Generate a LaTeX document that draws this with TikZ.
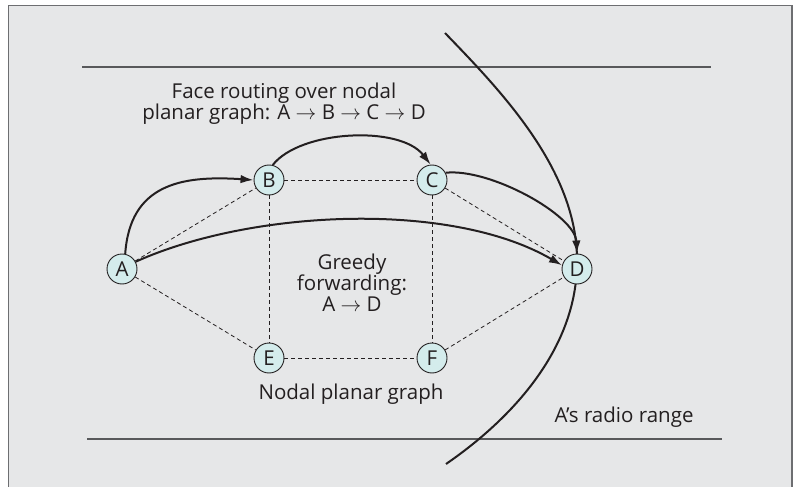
\documentclass[tikz,border=0pt]{standalone}
\usepackage{fontspec}
\setmainfont{Open Sans}[Ligatures=NoCommon]
\usetikzlibrary{arrows.meta}
\definecolor{bg}{HTML}{E6E7E8}
\definecolor{framec}{HTML}{6D6E71}
\definecolor{rulec}{HTML}{58595B}
\definecolor{nodefill}{HTML}{D4ECEC}
\definecolor{ink}{HTML}{231F20}
\begin{document}
\begin{tikzpicture}[x=1pt,y=-1pt,
  font=\fontsize{20.5}{21}\selectfont, text=ink,
  vertex/.style={circle, draw=ink, fill=nodefill, line width=0.9pt, minimum size=30pt, inner sep=0pt, font=\fontsize{20.5}{20}\selectfont},
  link/.style={dash pattern=on 4pt off 3pt, line width=0.8pt, draw=ink},
  route/.style={line width=2pt, draw=ink, -{Latex[length=13pt,width=8.5pt]}},
  rangeline/.style={line width=2pt, draw=ink},
  hrule/.style={line width=1.3pt, draw=rulec},
  label/.style={align=center, inner sep=0pt, anchor=base}]
\useasboundingbox (0,0) rectangle (796,487);
\fill[white] (0,0) rectangle (796,487);
\draw[draw=framec, line width=1.8pt, fill=bg] (8.5,5.5) rectangle (792,500);
% horizontal rules
\coordinate (t1) at (82,67); \coordinate (t2) at (711,67);
\coordinate (b1) at (87,439); \coordinate (b2) at (722,439);
\draw[hrule] (t1) -- (t2);
\draw[hrule] (b1) -- (b2);
% radio range arc
\coordinate (rtop) at (445,33);
\coordinate (rmid) at (577,262);
\coordinate (rbot) at (446,464);
\draw[rangeline] (rtop) .. controls (500,90) and (578,170) .. (rmid)
  .. controls (577,350) and (510,420) .. (rbot);
% nodes
\node[vertex] (A) at (122,269) {A};
\node[vertex] (B) at (269,180) {B};
\node[vertex] (C) at (432,180) {C};
\node[vertex] (D) at (577,269) {D};
\node[vertex] (E) at (269,358) {E};
\node[vertex] (F) at (432,358) {F};
% planar graph edges
\draw[link] (A) -- (B);
\draw[link] (A) -- (E);
\draw[link] (B) -- (C);
\draw[link] (B) -- (E);
\draw[link] (C) -- (F);
\draw[link] (C) -- (D);
\draw[link] (E) -- (F);
\draw[link] (F) -- (D);
% routes
\draw[route] (A.78) .. controls (130,185) and (180,175) .. (B.west);
\draw[route] (B.76) .. controls (300,130) and (400,125) .. (C.95);
\draw[route] (C.28) .. controls (490,168) and (575,215) .. (D.north);
\draw[route] (A.28) .. controls (250,210) and (450,200) .. (D.166);
% labels
\node[label] (title) at (284,120) {Face routing over nodal\\planar graph: A $\to$ B $\to$ C $\to$ D};
\node[label] (greedy) at (352,311) {Greedy\\forwarding:\\A $\to$ D};
\node[label] (nodal) at (351,399) {Nodal planar graph};
\node[label] (radio) at (624,422) {A’s radio range};
\end{tikzpicture}
\end{document}
